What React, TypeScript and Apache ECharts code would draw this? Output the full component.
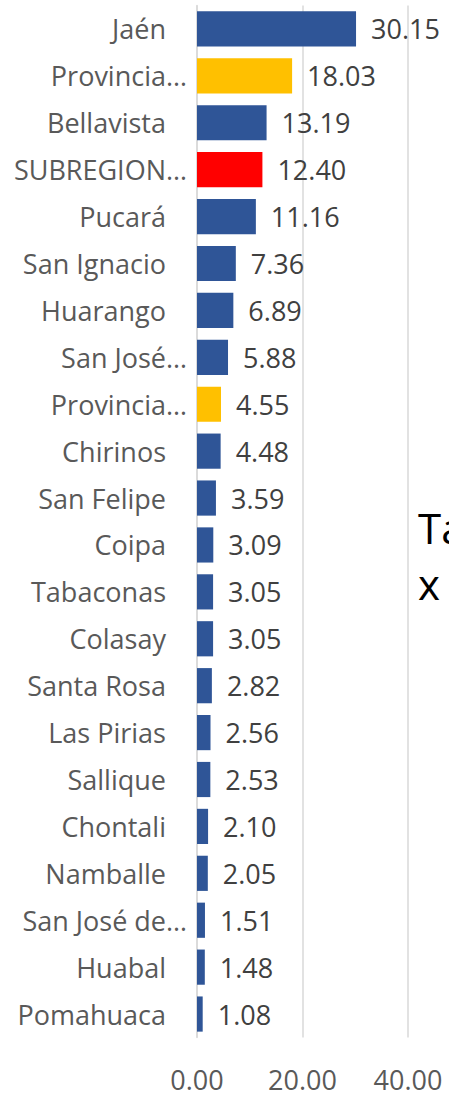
import React, { useEffect, useRef } from "react";
import * as echarts from "echarts";

const categories = [
  "Jaén", "Provincia…", "Bellavista", "SUBREGION…", "Pucará", "San Ignacio",
  "Huarango", "San José…", "Provincia…", "Chirinos", "San Felipe", "Coipa",
  "Tabaconas", "Colasay", "Santa Rosa", "Las Pirias", "Sallique", "Chontali",
  "Namballe", "San José de…", "Huabal", "Pomahuaca",
];
const values = [
  30.15, 18.03, 13.19, 12.4, 11.16, 7.36, 6.89, 5.88, 4.55, 4.48, 3.59, 3.09,
  3.05, 3.05, 2.82, 2.56, 2.53, 2.1, 2.05, 1.51, 1.48, 1.08,
];
const kinds = [
  "d", "p", "d", "s", "d", "d", "d", "d", "p", "d", "d", "d",
  "d", "d", "d", "d", "d", "d", "d", "d", "d", "d",
];
const xTicks = [0, 20, 40];
const sideText = ["Ta", "x"];

const colorOf: Record<string, string> = { d: "#2F5597", p: "#FFC000", s: "#FF0000" };
const FONT = "Open Sans";

export default function App() {
  const ref = useRef<HTMLDivElement>(null);
  useEffect(() => {
    const chart = echarts.init(ref.current!, undefined, { renderer: "svg" });
    chart.setOption({
      animation: false,
      backgroundColor: "#ffffff",
      grid: { left: 197, right: 41, top: 5.5, bottom: 55.5, containLabel: false },
      xAxis: {
        type: "value",
        min: xTicks[0],
        max: xTicks[xTicks.length - 1],
        interval: 20,
        axisLine: { show: false },
        axisTick: { show: false },
        splitLine: { show: true, lineStyle: { color: "#D9D9D9", width: 1.5 } },
        axisLabel: {
          fontFamily: FONT,
          fontSize: 27,
          color: "#595959",
          margin: 28,
          formatter: (v: number) => v.toFixed(2),
        },
      },
      yAxis: {
        type: "category",
        inverse: true,
        data: categories,
        axisLine: { show: true, lineStyle: { color: "#D9D9D9", width: 1.5 } },
        axisTick: { show: false },
        axisLabel: {
          fontFamily: FONT,
          fontSize: 27,
          color: "#595959",
          margin: 10,
          formatter: (v: string) => (v.endsWith("…") ? `{t|${v}}` : `{n|${v}}`),
          rich: {
            t: { fontFamily: FONT, fontSize: 27, color: "#595959" },
            n: { fontFamily: FONT, fontSize: 27, color: "#595959", padding: [0, 21, 0, 0] },
          },
        },
      },
      series: [
        {
          type: "bar",
          barCategoryGap: "25%",
          data: values.map((v, i) => ({
            value: v,
            itemStyle: { color: colorOf[kinds[i]] },
          })),
          label: {
            show: true,
            position: "right",
            distance: 15,
            fontFamily: FONT,
            fontSize: 27,
            color: "#404040",
            formatter: (p: any) => Number(p.value).toFixed(2),
          },
        },
      ],
      graphic: sideText.map((t, i) => ({
        type: "text",
        left: 418,
        top: 506 + i * 56,
        style: { text: t, fontFamily: FONT, fontSize: 42, fill: "#000000" },
      })),
    });
    return () => chart.dispose();
  }, []);
  return <div ref={ref} style={{ width: 449, height: 1093, position: "absolute", left: 0, top: 0 }} />;
}
